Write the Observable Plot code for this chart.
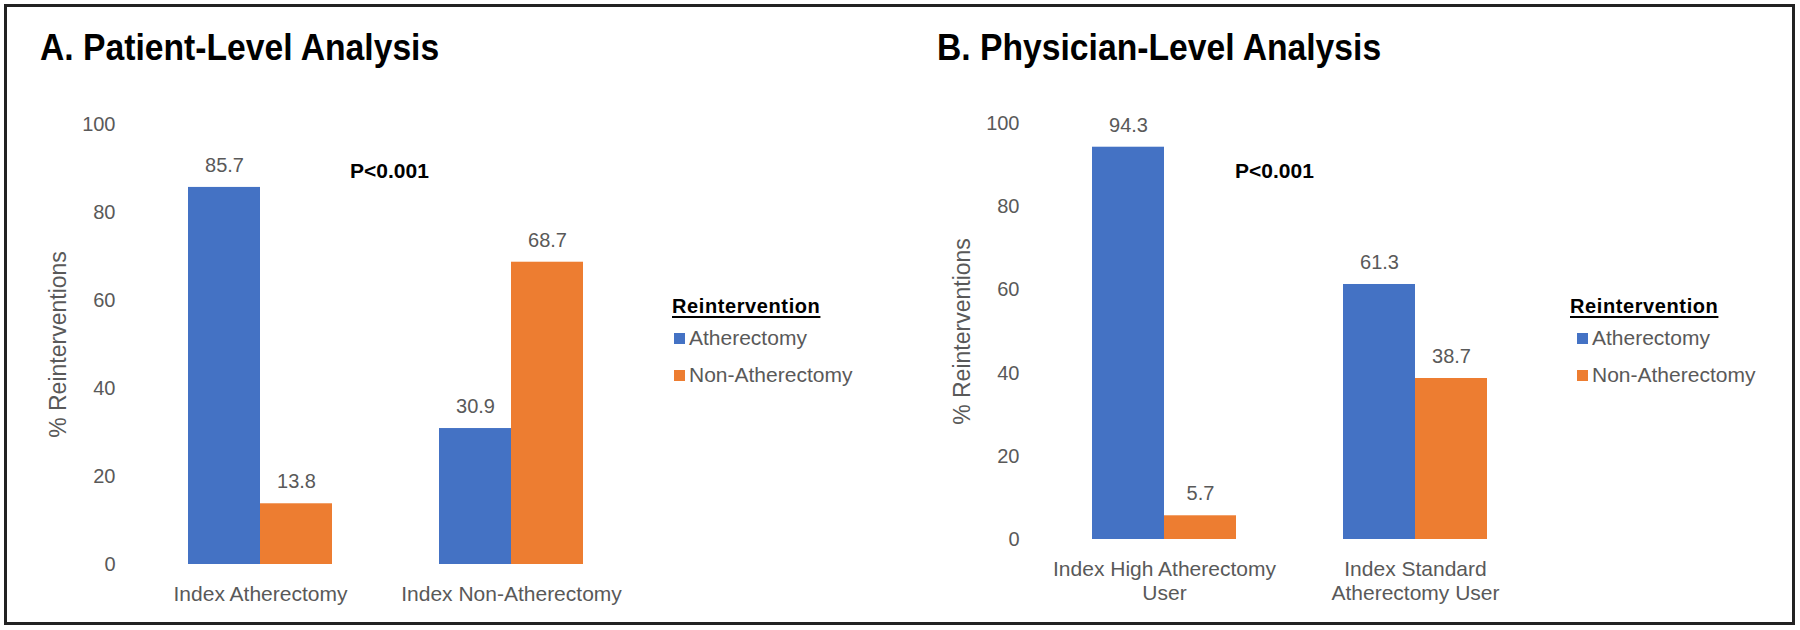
<!DOCTYPE html>
<html><head><meta charset="utf-8">
<script src="https://cdn.jsdelivr.net/npm/d3@7"></script>
<script src="https://cdn.jsdelivr.net/npm/@observablehq/plot@0.6"></script>
<style>
body{margin:0;background:#fff;font-family:"Liberation Sans",Arial,sans-serif;}
#page{position:relative;width:1800px;height:630px;overflow:hidden;background:#fff}
#frame{position:absolute;left:4px;top:4px;width:1785px;height:615px;border:3px solid #222;pointer-events:none}
.panel{position:absolute;top:0;width:900px;height:630px}
.panel svg{position:absolute;left:0;top:0}
.abs{position:absolute;white-space:nowrap;line-height:1}
.title{font-weight:bold;font-size:37px;color:#000;transform:scaleX(0.91);transform-origin:0 0}
.ptxt{font-weight:bold;font-size:21px;color:#000}
.legtitle{font-weight:bold;font-size:20px;color:#000;text-decoration:underline;text-decoration-thickness:2px;text-underline-offset:3px;letter-spacing:0.6px}
.sw{position:absolute;width:11px;height:11px}
.legtxt{font-size:21px;color:#595959}
</style>
</head><body>
<div id="page"></div>
<script>
// ---- data ----
const seriesNames = ["Atherectomy", "Non-Atherectomy"];
const seriesColors = ["#4472C4", "#ED7D31"];
const yTicks = [0, 20, 40, 60, 80, 100];

const catsA = ["Index Atherectomy", "Index Non-Atherectomy"];
const athA = [85.7, 30.9];
const nonA = [13.8, 68.7];

const catsB = ["Index High Atherectomy User", "Index Standard Atherectomy User"];
const catLabelsB = ["Index High Atherectomy\nUser", "Index Standard\nAtherectomy User"];
const athB = [94.3, 61.3];
const nonB = [5.7, 38.7];

const titles = ["A. Patient-Level Analysis", "B. Physician-Level Analysis"];
const pText = "P<0.001";
const yLabel = "% Reinterventions";
const legendTitle = "Reintervention";

// ---- build ----
const page = document.getElementById("page");

function rows(cats, a, n) {
  const out = [];
  cats.forEach((c, i) => {
    out.push({cat: c, series: seriesNames[0], value: a[i]});
    out.push({cat: c, series: seriesNames[1], value: n[i]});
  });
  return out;
}

function panel(cfg) {
  const div = document.createElement("div");
  div.className = "panel";
  div.style.left = cfg.left + "px";
  page.appendChild(div);

  const data = rows(cfg.cats, cfg.ath, cfg.non);
  const s0 = data.filter(d => d.series === seriesNames[0]);
  const s1 = data.filter(d => d.series === seriesNames[1]);
  const half = 72;
  const labelMap = new Map(cfg.cats.map((c, i) => [c, cfg.labels[i]]));

  const svg = Plot.plot({
    width: 900,
    height: 630,
    marginLeft: cfg.ml,
    marginRight: 900 - cfg.ml - 502,
    marginTop: cfg.mt,
    marginBottom: cfg.mb,
    style: {fontFamily: '"Liberation Sans", Arial, sans-serif', color: "#595959", background: "transparent", overflow: "visible"},
    x: {domain: cfg.cats, paddingInner: 0.4263, paddingOuter: 0.2131, label: null},
    y: {domain: [0, 100], label: null},
    marks: [
      Plot.barY(s0, {x: "cat", y: "value", fill: seriesColors[0], insetRight: half}),
      Plot.barY(s1, {x: "cat", y: "value", fill: seriesColors[1], insetLeft: half}),
      Plot.text(s0, {x: "cat", y: "value", text: d => d.value.toFixed(1), dx: -half / 2, dy: -22, fontSize: 20, fill: "#595959"}),
      Plot.text(s1, {x: "cat", y: "value", text: d => d.value.toFixed(1), dx: half / 2, dy: -22, fontSize: 20, fill: "#595959"}),
      Plot.axisY({ticks: yTicks, tickSize: 0, tickPadding: 19.5, fontSize: 20, label: null, fill: "#595959"}),
      Plot.axisX({tickSize: 0, tickPadding: 19, fontSize: 21, label: null, lineHeight: 1.15, fill: "#595959", tickFormat: d => labelMap.get(d)}),
      Plot.text([yLabel], {frameAnchor: "left", textAnchor: "middle", lineAnchor: "middle", rotate: -90, dx: -76, fontSize: 23, fill: "#595959"})
    ]
  });
  div.appendChild(svg);

  const t = document.createElement("div");
  t.className = "abs title";
  t.textContent = cfg.title;
  t.style.left = cfg.titleX + "px";
  t.style.top = "28.7px";
  div.appendChild(t);

  const p = document.createElement("div");
  p.className = "abs ptxt";
  p.textContent = pText;
  p.style.left = cfg.pX + "px";
  p.style.top = "160px";
  div.appendChild(p);

  const lt = document.createElement("div");
  lt.className = "abs legtitle";
  lt.textContent = legendTitle;
  lt.style.left = cfg.legX + "px";
  lt.style.top = "296px";
  div.appendChild(lt);

  seriesNames.forEach((name, i) => {
    const sw = document.createElement("div");
    sw.className = "sw";
    sw.style.background = seriesColors[i];
    sw.style.left = (cfg.legX + cfg.swOff) + "px";
    sw.style.top = (333 + 37 * i) + "px";
    div.appendChild(sw);
    const tx = document.createElement("div");
    tx.className = "abs legtxt";
    tx.textContent = name;
    tx.style.left = (cfg.legX + cfg.swOff + 15) + "px";
    tx.style.top = (327.2 + 37 * i) + "px";
    div.appendChild(tx);
  });
}

panel({left: 0, cats: catsA, labels: catsA, ath: athA, non: nonA, ml: 134.5, mt: 124, mb: 66,
       title: titles[0], titleX: 40, pX: 350, legX: 672, swOff: 2});
panel({left: 900, cats: catsB, labels: catLabelsB, ath: athB, non: nonB, ml: 138.5, mt: 123, mb: 91,
       title: titles[1], titleX: 37, pX: 335, legX: 670, swOff: 7});

const frame = document.createElement("div");
frame.id = "frame";
page.appendChild(frame);
</script>
</body></html>
